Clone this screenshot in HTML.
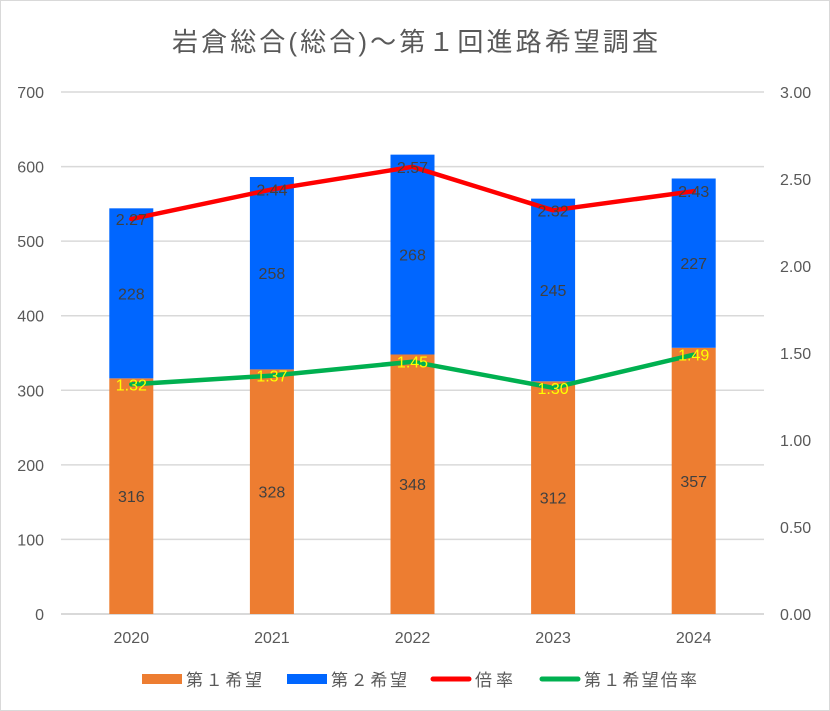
<!DOCTYPE html>
<html><head><meta charset="utf-8"><style>
body{margin:0;background:#fff}
svg{display:block;font-family:"Liberation Sans","Noto Sans CJK JP",sans-serif}
</style></head><body>
<svg id="c" width="830" height="711">
<rect x="0.5" y="0.5" width="829" height="710" fill="#fff" stroke="#d9d9d9"/>
<text x="172" y="51" textLength="486" lengthAdjust="spacing" font-size="26" fill="#595959">岩倉総合(総合)～第１回進路希望調査</text>
<g id="grid"></g><g id="bars"></g><g id="lines"></g><g id="labels"></g>
<g>
<rect x="142" y="674" width="40" height="10" fill="#ed7d31"/>
<text x="186" y="686" font-size="17" textLength="76" lengthAdjust="spacing" fill="#595959">第１希望</text>
<rect x="287" y="674" width="40" height="10" fill="#0066ff"/>
<text x="331" y="686" font-size="17" textLength="76" lengthAdjust="spacing" fill="#595959">第２希望</text>
<line x1="433" y1="679" x2="469" y2="679" stroke="#ff0000" stroke-width="5" stroke-linecap="round"/>
<text x="475" y="686" font-size="17" textLength="38" lengthAdjust="spacing" fill="#595959">倍率</text>
<line x1="542" y1="679" x2="578" y2="679" stroke="#00b050" stroke-width="5" stroke-linecap="round"/>
<text x="584" y="686" font-size="17" textLength="113" lengthAdjust="spacing" fill="#595959">第１希望倍率</text>
</g>
</svg>
<script>
const categories=["2020","2021","2022","2023","2024"];
const first=[316,328,348,312,357];
const second=[228,258,268,245,227];
const ratio=[2.27,2.44,2.57,2.32,2.43];
const firstRatio=[1.32,1.37,1.45,1.30,1.49];
const leftTicks=[0,100,200,300,400,500,600,700];
const rightTicks=["0.00","0.50","1.00","1.50","2.00","2.50","3.00"];
const NS="http://www.w3.org/2000/svg";
const X0=61,X1=764,Y0=614,Y1=92;
const yL=v=>Y0-(v/700)*(Y0-Y1);
const yR=v=>Y0-(v/3)*(Y0-Y1);
const xC=i=>X0+(i+0.5)*(X1-X0)/categories.length;
function mk(p,t,a){const e=document.createElementNS(NS,t);for(const k in a)e.setAttribute(k,a[k]);document.getElementById(p).appendChild(e);return e;}
leftTicks.forEach(v=>{
 const l=mk("grid","line",{x1:X0,x2:X1,y1:yL(v),y2:yL(v),stroke:"#d9d9d9","stroke-width":v===0?2:1.5});
 
 
 const t=mk("grid","text",{x:44,y:yL(v)+6,"text-anchor":"end","font-size":16,fill:"#595959"});t.textContent=v;
 
 
});
rightTicks.forEach(s=>{
 const t=mk("grid","text",{x:780,y:yR(parseFloat(s))+6,"font-size":16,fill:"#595959"});t.textContent=s;
 
 
});
categories.forEach((c,i)=>{
 const t=mk("grid","text",{x:xC(i),y:643,"text-anchor":"middle","font-size":16,fill:"#595959"});t.textContent=c;
 
 
 const b1=mk("bars","rect",{x:xC(i)-22,y:yL(first[i]),width:44,height:Y0-yL(first[i]),fill:"#ed7d31"});
 
 
 const b2=mk("bars","rect",{x:xC(i)-22,y:yL(first[i]+second[i]),width:44,height:yL(first[i])-yL(first[i]+second[i]),fill:"#0066ff"});
 
 
 const t1=mk("labels","text",{x:xC(i),y:(yL(first[i])+Y0)/2+6,"text-anchor":"middle","font-size":16,fill:"#404040"});t1.textContent=first[i];
 
 
 const t2=mk("labels","text",{x:xC(i),y:(yL(first[i])+yL(first[i]+second[i]))/2+6,"text-anchor":"middle","font-size":16,fill:"#404040"});t2.textContent=second[i];
 
 
 const t3=mk("labels","text",{x:xC(i),y:yR(ratio[i])+6,"text-anchor":"middle","font-size":16,fill:"#404040"});t3.textContent=ratio[i].toFixed(2);
 
 
 const t4=mk("labels","text",{x:xC(i),y:yR(firstRatio[i])+6,"text-anchor":"middle","font-size":16,fill:"#ffff00"});t4.textContent=firstRatio[i].toFixed(2);
 
 
});
const p1=mk("lines","polyline",{points:ratio.map((v,i)=>xC(i)+","+yR(v)).join(" "),fill:"none",stroke:"#ff0000","stroke-width":4.5,"stroke-linejoin":"round","stroke-linecap":"round"});


const p2=mk("lines","polyline",{points:firstRatio.map((v,i)=>xC(i)+","+yR(v)).join(" "),fill:"none",stroke:"#00b050","stroke-width":4.5,"stroke-linejoin":"round","stroke-linecap":"round"});


</script>
</body></html>
